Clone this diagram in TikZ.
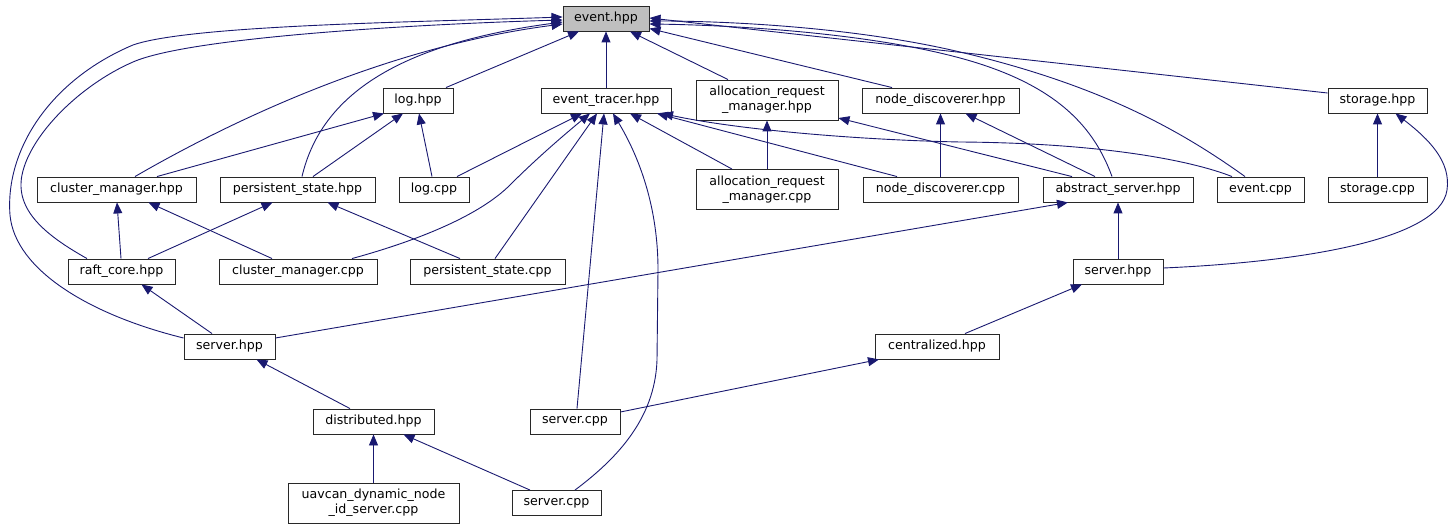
\documentclass[tikz,border=0pt]{standalone}
\usepackage{fontspec}
\setmainfont{DejaVu Sans}
\usetikzlibrary{arrows.meta,calc}
\definecolor{edgec}{RGB}{25,25,112}
\definecolor{rootfill}{RGB}{191,191,191}
\definecolor{boxline}{RGB}{40,40,40}
\begin{document}
\begin{tikzpicture}[x=1pt,y=-1pt,
  box/.style={draw=boxline, line width=0.9pt, fill=white, inner sep=0pt, align=center,
    font=\fontsize{12.6}{15}\selectfont, minimum height=25pt},
  dep/.style={draw=edgec, line width=0.9pt, -{Triangle[length=11pt,width=9pt]}}]
\useasboundingbox (0,0) rectangle (1453,529);
% nodes
\node[box, fill=rootfill, minimum width=86pt] (evh) at (606,18.5) {event.hpp};
\node[box, minimum width=70pt] (logh) at (418,100.5) {log.hpp};
\node[box, minimum width=130pt] (eth) at (606,100.5) {event\_tracer.hpp};
\node[box, minimum width=142pt, minimum height=40pt] (armh) at (767,100) {allocation\_request\\\_manager.hpp};
\node[box, minimum width=157pt] (ndh) at (940.5,100.5) {node\_discoverer.hpp};
\node[box, minimum width=99pt] (sth) at (1377.5,100.5) {storage.hpp};
\node[box, minimum width=159pt] (cmh) at (116.5,189.5) {cluster\_manager.hpp};
\node[box, minimum width=155pt] (psh) at (297.5,189.5) {persistent\_state.hpp};
\node[box, minimum width=70pt] (logc) at (434,189.5) {log.cpp};
\node[box, minimum width=142pt, minimum height=40pt] (armc) at (767,189.5) {allocation\_request\\\_manager.cpp};
\node[box, minimum width=155pt] (ndc) at (940.5,189.5) {node\_discoverer.cpp};
\node[box, minimum width=150pt] (ash) at (1118,189.5) {abstract\_server.hpp};
\node[box, minimum width=87pt] (evc) at (1260.5,189.5) {event.cpp};
\node[box, minimum width=99pt] (stc) at (1377.5,189.5) {storage.cpp};
\node[box, minimum width=107pt] (rch) at (121.5,271.5) {raft\_core.hpp};
\node[box, minimum width=158pt] (cmc) at (298,271.5) {cluster\_manager.cpp};
\node[box, minimum width=155pt] (psc) at (487.5,271.5) {persistent\_state.cpp};
\node[box, minimum width=90pt] (srvR) at (1118,271.5) {server.hpp};
\node[box, minimum width=91pt] (srvL) at (229.5,346.5) {server.hpp};
\node[box, minimum width=124pt] (cen) at (937,346.5) {centralized.hpp};
\node[box, minimum width=121pt] (dist) at (373.5,421.5) {distributed.hpp};
\node[box, minimum width=90pt] (srvcM) at (575,421.5) {server.cpp};
\node[box, minimum width=171pt, minimum height=40pt] (uav) at (373.5,503) {uavcan\_dynamic\_node\\\_id\_server.cpp};
\node[box, minimum width=89pt] (srvcB) at (556.5,503) {server.cpp};
% edges into event.hpp
\draw[dep] ($(logh.north)+(28,0)$) -- ($(evh.south)+(-27,0)$);
\draw[dep] (eth.north) -- (evh.south);
\draw[dep] ($(armh.north)+(-39,0)$) -- ($(evh.south)+(24,0)$);
\draw[dep] ($(ndh.north)+(-48.5,0)$) -- ($(evh.east)+(0,10)$);
\draw[dep] ($(sth.west)+(0,-7.5)$) -- ($(evh.east)+(0,-0.5)$);
\draw[dep] ($(evc.north)+(-15.5,0)$) .. controls (1180,130) and (1100,85) .. (960,52)
  .. controls (850,26) and (720,21) .. ($(evh.east)+(0,2.5)$);
\draw[dep] ($(ash.north)+(-6,0)$) .. controls (1095,130) and (1060,85) .. (960,58)
  .. controls (860,31) and (720,25) .. ($(evh.east)+(0,5.5)$);
\draw[dep] ($(cmh.north)+(18.5,0)$) .. controls (250,110) and (400,45) .. ($(evh.west)+(0,5.5)$);
\draw[dep] ($(psh.north)+(4.5,0)$) .. controls (320,100) and (390,45) .. ($(evh.west)+(0,3.5)$);
\draw[dep] ($(rch.north)+(-34.5,0)$) .. controls (45,235) and (15,210) .. (22,175)
  .. controls (30,135) and (80,85) .. (133,62)
  .. controls (190,37) and (420,24) .. ($(evh.west)+(0,1.5)$);
\draw[dep] ($(srvL.west)+(0,-8.5)$) .. controls (90,315) and (15,270) .. (10,215)
  .. controls (5,150) and (50,80) .. (133,45)
  .. controls (190,25) and (420,22) .. ($(evh.west)+(0,-1.5)$);
% edges into log.hpp
\draw[dep] ($(cmh.north)+(40.5,0)$) -- ($(logh.south)+(-34,0)$);
\draw[dep] ($(psh.north)+(15.5,0)$) -- ($(logh.south)+(-15,0)$);
\draw[dep] ($(logc.north)+(-2,0)$) -- ($(logh.south)+(1,0)$);
% edges into event_tracer.hpp
\draw[dep] ($(logc.north)+(23,0)$) -- ($(eth.south)+(-24,0)$);
\draw[dep] ($(cmc.north)+(54,0)$) .. controls (420,240) and (480,215) .. (510,185)
  .. controls (540,155) and (570,130) .. ($(eth.south)+(-16,0)$);
\draw[dep] ($(psc.north)+(7.5,0)$) -- ($(eth.south)+(-9,0)$);
\draw[dep] ($(srvcM.north)+(2,0)$) -- ($(eth.south)+(-2,0)$);
\draw[dep] ($(srvcB.north)+(18.5,0)$) .. controls (615,460) and (655,420) .. (657,360)
  -- (658,270) .. controls (658,200) and (635,150) .. ($(eth.south)+(7,0)$);
\draw[dep] ($(armc.north)+(-35,0)$) -- ($(eth.south)+(24,0)$);
\draw[dep] ($(ndc.north)+(-43.5,0)$) -- ($(eth.south)+(51,0)$);
\draw[dep] ($(evc.north)+(-28.5,0)$) .. controls (1190,160) and (1100,143) .. (960,142)
  .. controls (860,140) and (740,130) .. ($(eth.south)+(56,0)$);
% allocation_request_manager.hpp
\draw[dep] (armc.north) -- (armh.south);
\draw[dep] ($(ash.north)+(-46,0)$) -- ($(armh.east)+(0,18)$);
% node_discoverer.hpp
\draw[dep] (ndc.north) -- (ndh.south);
\draw[dep] ($(ash.north)+(-23,0)$) -- ($(ndh.south)+(25,0)$);
% storage.hpp
\draw[dep] (stc.north) -- (sth.south);
\draw[dep] ($(srvR.east)+(0,-3.5)$) .. controls (1300,262) and (1440,240) .. (1447,190)
  .. controls (1451,162) and (1430,140) .. ($(sth.south)+(18,0)$);
% cluster_manager.hpp
\draw[dep] ($(rch.north)+(-0.5,0)$) -- ($(cmh.south)+(0.5,0)$);
\draw[dep] ($(cmc.north)+(-26,0)$) -- ($(cmh.south)+(32,0)$);
% persistent_state.hpp
\draw[dep] ($(rch.north)+(26.5,0)$) -- ($(psh.south)+(-25,0)$);
\draw[dep] ($(psc.north)+(-27.5,0)$) -- ($(psh.south)+(30,0)$);
% raft_core.hpp
\draw[dep] ($(srvL.north)+(-17.5,0)$) -- ($(rch.south)+(20,0)$);
% abstract_server.hpp
\draw[dep] ($(srvL.east)+(0,-8.5)$) -- ($(ash.south)+(-50,0)$);
\draw[dep] (srvR.north) -- (ash.south);
% server.hpp right
\draw[dep] ($(cen.north)+(28,0)$) -- ($(srvR.south)+(-36,0)$);
% centralized.hpp
\draw[dep] ($(srvcM.east)+(0,-9.5)$) -- ($(cen.south)+(-58,0)$);
% server.hpp left
\draw[dep] ($(dist.north)+(-23.5,0)$) -- ($(srvL.south)+(27,0)$);
% distributed.hpp
\draw[dep] (uav.north) -- (dist.south);
\draw[dep] ($(srvcB.north)+(-26.5,0)$) -- ($(dist.south)+(30,0)$);
\end{tikzpicture}
\end{document}
